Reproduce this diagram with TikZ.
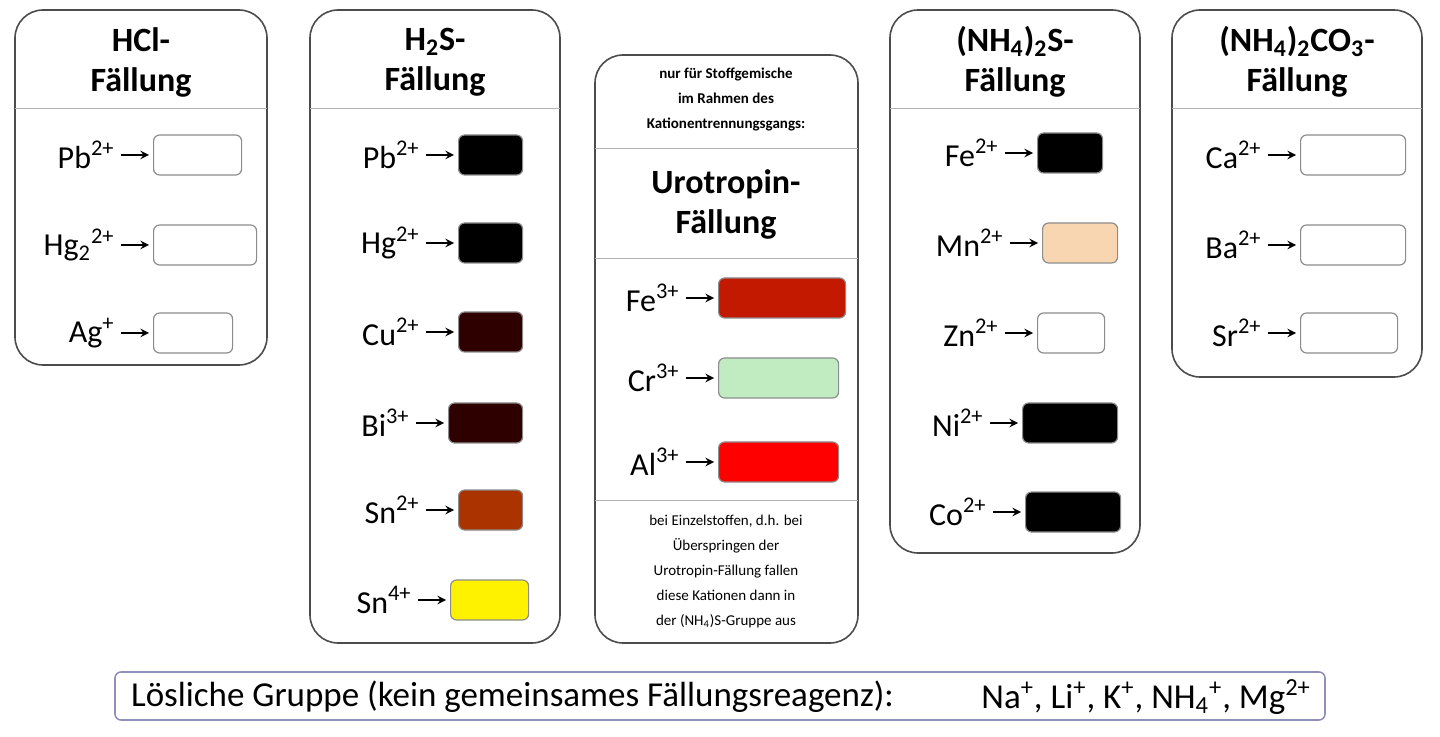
\documentclass[tikz,border=0pt]{standalone}
\usepackage{fontspec}
\setmainfont{Carlito}
\usetikzlibrary{positioning,calc}
\tikzset{>=stealth}
\tikzset{
  grp/.style={draw=black!70, line width=0.8pt, rounded corners=14pt},
  sw/.style={draw=black!45, line width=0.6pt, rounded corners=3pt, minimum height=20pt, inner sep=0pt},
  ion/.style={anchor=east, font=\fontsize{16}{18}\selectfont, inner sep=1pt},
  ttl/.style={font=\bfseries\fontsize{17}{20}\selectfont, align=center},
  sml/.style={font=\fontsize{7.5}{12.5}\selectfont, align=center}
}
\newcommand{\ionrow}[6]{% name, x-left of swatch, y, width, colour, label
  \node[sw, fill=#5, minimum width=#4*0.5pt, anchor=west] (#1) at (#2,#3) {};
  \node[ion] (#1l) at ($(#1.west)+(-36,0)$) {#6};
  \draw[->, line width=0.9pt] (#1l.east)++(4,0) coordinate (#1a) -- ($(#1.west)+(-4,0)$);
}
\newcommand{\up}[1]{\textsuperscript{#1}}
\newcommand{\dn}[1]{\textsubscript{#1}}
\begin{document}
\begin{tikzpicture}[x=0.5pt,y=-0.5pt]
  \useasboundingbox (0,0) rectangle (1440,737);
  % HCl group
  \draw[grp] (15,10) rectangle (267,365);
  \draw[black!30] (15,108)--(267,108);
  \node[ttl] (t1) at (141,62) {HCl-\\Fällung};
  \ionrow{pbA}{153}{155}{88}{white}{Pb\up{2+}}
  \ionrow{hgA}{153}{245}{103}{white}{Hg\dn{2}\up{2+}}
  \ionrow{agA}{153}{333}{79}{white}{Ag\up{+}}
  % H2S group
  \draw[grp] (310,10) rectangle (560,643);
  \draw[black!30] (310,108)--(560,108);
  \node[ttl] (t2) at (435,62) {H\dn{2}S-\\Fällung};
  \ionrow{pbB}{458}{155}{64}{black}{Pb\up{2+}}
  \ionrow{hgB}{458}{243}{64}{black}{Hg\up{2+}}
  \ionrow{cuB}{458}{332}{64}{black!70!red!60!black}{Cu\up{2+}}
  \ionrow{biB}{448}{423}{74}{black!70!red!60!black}{Bi\up{3+}}
  \ionrow{snB}{458}{510}{64}{red!45!black!60!orange}{Sn\up{2+}}
  \ionrow{snC}{450}{600}{78}{yellow}{Sn\up{4+}}
  % Urotropin group
  \draw[grp] (595,55) rectangle (858,643);
  \node[sml, font=\bfseries\fontsize{7.5}{12.5}\selectfont] (n3) at (726,100) {nur für Stoffgemische\\im Rahmen des\\Kationentrennungsgangs:};
  \draw[black!30] (595,148)--(858,148);
  \node[ttl] (t3) at (726,204) {Urotropin-\\Fällung};
  \draw[black!30] (595,258)--(858,258);
  \ionrow{feC}{718}{298}{127}{red!70!black!80!orange}{Fe\up{3+}}
  \ionrow{crC}{718}{378}{120}{green!20!white!85!gray}{Cr\up{3+}}
  \ionrow{alC}{718}{462}{120}{red}{Al\up{3+}}
  \draw[black!30] (595,500)--(858,500);
  \node[sml] (b3) at (726,571) {bei Einzelstoffen, d.h. bei\\Überspringen der\\Urotropin-Fällung fallen\\diese Kationen dann in\\der (NH\dn{4})S-Gruppe aus};
  % (NH4)2S group
  \draw[grp] (890,10) rectangle (1140,553);
  \draw[black!30] (890,108)--(1140,108);
  \node[ttl] (t4) at (1015,62) {(NH\dn{4})\dn{2}S-\\Fällung};
  \ionrow{feD}{1037}{153}{65}{black}{Fe\up{2+}}
  \ionrow{mnD}{1042}{243}{75}{orange!25!white!90!brown}{Mn\up{2+}}
  \ionrow{znD}{1037}{333}{67}{white}{Zn\up{2+}}
  \ionrow{niD}{1022}{423}{95}{black}{Ni\up{2+}}
  \ionrow{coD}{1025}{512}{95}{black}{Co\up{2+}}
  % (NH4)2CO3 group
  \draw[grp] (1172,10) rectangle (1422,377);
  \draw[black!30] (1172,108)--(1422,108);
  \node[ttl] (t5) at (1297,62) {(NH\dn{4})\dn{2}CO\dn{3}-\\Fällung};
  \ionrow{caE}{1300}{155}{105}{white}{Ca\up{2+}}
  \ionrow{baE}{1300}{245}{105}{white}{Ba\up{2+}}
  \ionrow{srE}{1300}{333}{97}{white}{Sr\up{2+}}
  % soluble group
  \draw[draw=blue!25!gray!70, line width=0.8pt, rounded corners=3pt] (115,672) rectangle (1325,720);
  \node[font=\fontsize{17.5}{20}\selectfont, anchor=west] (sol) at (124,697) {Lösliche Gruppe (kein gemeinsames Fällungsreagenz):};
  \node[font=\fontsize{17.5}{20}\selectfont, anchor=east] (solb) at (1318,697) {Na\up{+}, Li\up{+}, K\up{+}, NH\dn{4}\up{+}, Mg\up{2+}};
\end{tikzpicture}
\end{document}
